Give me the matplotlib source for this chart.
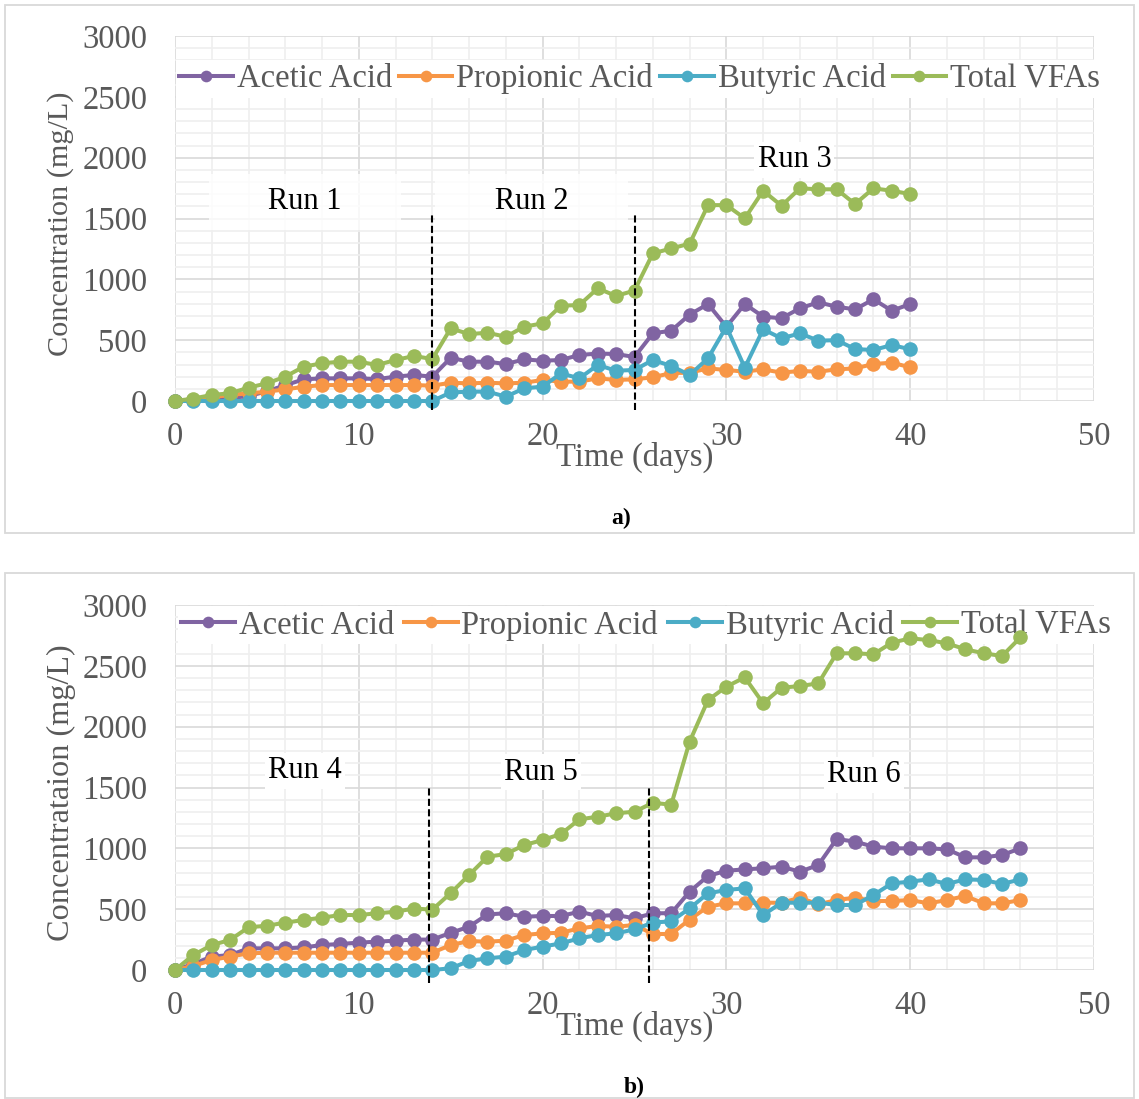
import matplotlib
matplotlib.use("Agg")
import matplotlib.pyplot as plt
from matplotlib.patches import Rectangle
from matplotlib.ticker import MultipleLocator

# ---- data: panel a) runs 1-3 ----
days_a = list(range(41))
acetic_a = [0, 5, 15, 25, 40, 80, 130, 178, 186, 186, 186, 180, 200, 214, 200,
            355, 323, 323, 304, 342, 331, 337, 378, 390, 386, 362,
            556, 578, 710, 797, 610, 797, 693, 680, 762, 811, 775, 753, 836, 742, 797]
propionic_a = [0, 5, 30, 50, 63, 77, 95, 117, 131, 131, 131, 131, 131, 131, 126,
               150, 145, 150, 145, 150, 173, 159, 159, 186, 173, 178,
               195, 230, 232, 268, 255, 241, 260, 233, 247, 241, 260, 268, 304, 315, 277]
butyric_a = [0, 0, 0, 0, 0, 0, 0, 0, 0, 0, 0, 0, 0, 0, 0,
             70, 77, 77, 36, 104, 118, 227, 186, 296, 249, 255,
             337, 288, 214, 351, 611, 274, 589, 515, 556, 496, 500, 427, 419, 460, 425]
total_a = [0, 20, 50, 63, 110, 145, 200, 282, 310, 323, 323, 296, 337, 370, 345,
           597, 550, 561, 528, 611, 638, 783, 789, 926, 863, 908,
           1213, 1254, 1293, 1610, 1610, 1501, 1728, 1605, 1748, 1740, 1740, 1619, 1748, 1728, 1701]
runs_a = ["Run 1", "Run 2", "Run 3"]
bounds_a = [14, 25]

# ---- data: panel b) runs 4-6 ----
days_b = list(range(47))
acetic_b = [0, 50, 110, 123, 178, 178, 178, 186, 205, 214, 225, 233, 241, 250, 250,
            305, 356, 457, 466, 438, 444, 444, 479, 444, 452, 425,
            466, 467, 644, 773, 816, 827, 836, 849, 808, 863, 1077, 1055, 1014, 1000,
            1000, 1000, 992, 926, 926, 945, 1000]
propionic_b = [0, 33, 82, 110, 137, 142, 142, 142, 142, 142, 142, 142, 142, 142, 142,
               205, 238, 233, 241, 288, 301, 306, 342, 362, 356, 370,
               296, 296, 415, 520, 548, 548, 553, 553, 594, 540, 575, 594, 567, 567,
               575, 548, 575, 608, 548, 548, 575]
butyric_b = [0, 0, 0, 0, 0, 0, 0, 0, 0, 0, 0, 0, 0, 0, 0,
             14, 74, 96, 110, 164, 192, 219, 260, 288, 301, 334,
             390, 400, 507, 630, 658, 671, 452, 553, 553, 553, 534, 534, 616, 712,
             726, 745, 707, 745, 740, 707, 745]
total_b = [0, 123, 205, 247, 351, 364, 389, 411, 430, 452, 452, 466, 479, 505, 496,
           632, 781, 931, 953, 1027, 1068, 1118, 1238, 1260, 1288, 1301,
           1374, 1359, 1877, 2219, 2329, 2405, 2192, 2320, 2334, 2356, 2603, 2603, 2595, 2690,
           2726, 2712, 2685, 2636, 2603, 2581, 2734]
runs_b = ["Run 4", "Run 5", "Run 6"]
bounds_b = [13.8, 25.8]

names = ["Acetic Acid", "Propionic Acid", "Butyric Acid", "Total VFAs"]
colors = ["#8064A2", "#F79646", "#4BACC6", "#9BBB59"]

W, H = 1139, 1099
GRAY = "#595959"
FS = 23.5
plt.rcParams['font.family'] = ['Liberation Serif', 'DejaVu Serif']

fig = plt.figure(figsize=(W / 100, H / 100), dpi=100)


def panel(top, days, series, runs, run_xy, boxed, bounds, div_top, div_bot,
          leg_xy, colspace, ylabel, ylab_size, caption, cap_y, cap_x, frame):
    ax = fig.add_axes([175 / W, 1 - (top + 365) / H, 919 / W, 365 / H])
    for name, vals, c in zip(names, series, colors):
        ax.plot(days, vals, color=c, lw=2.9, marker='o', ms=10.5, mew=0,
                label=name, clip_on=False, zorder=7)
    ax.set_xlim(0, 50)
    ax.set_ylim(0, 3000)
    ax.xaxis.set_major_locator(MultipleLocator(10))
    ax.xaxis.set_minor_locator(MultipleLocator(2))
    ax.yaxis.set_major_locator(MultipleLocator(500))
    ax.yaxis.set_minor_locator(MultipleLocator(100))
    ax.grid(which='major', color='#d9d9d9', lw=1.2)
    ax.grid(which='minor', color='#efefef', lw=1.2)
    ax.set_axisbelow(True)
    for s in ax.spines.values():
        s.set_visible(False)
    ax.tick_params(which='both', length=0, labelsize=FS, labelcolor=GRAY)
    ax.tick_params(axis='y', pad=20)
    ax.tick_params(axis='x', pad=15)

    for xb in bounds:
        ax.plot([xb, xb], [div_bot, div_top], color='black', lw=1.5,
                dashes=(3.4, 1.6), clip_on=False, zorder=8)

    for (label, (x, y), big) in zip(runs, run_xy, boxed):
        if big:
            ax.text(x, y, "      " + label + "      ", fontsize=22, ha='center', va='center',
                    zorder=4, bbox=dict(boxstyle='square,pad=0.45', fc='white', ec='none', alpha=0.8))
        else:
            ax.text(x, y, label, fontsize=22, ha='center', va='center', zorder=4,
                    bbox=dict(boxstyle='square,pad=0.1', fc='white', ec='none'))

    leg = ax.legend(loc='center', bbox_to_anchor=leg_xy, ncol=4, fontsize=FS,
                    frameon=True, facecolor='white', edgecolor='none', framealpha=1,
                    fancybox=False, handlelength=1.65, handletextpad=0.12,
                    columnspacing=colspace, borderpad=0.1, borderaxespad=0,
                    markerscale=0.8, labelcolor=GRAY)
    leg.set_zorder(6)

    fig.text(61 / W, 1 - (top + 188) / H, ylabel, rotation=90, ha='center', va='center',
             fontsize=ylab_size, color=GRAY)
    fig.text(635 / W, 1 - (top + 421) / H, "Time (days)", ha='center', va='center',
             fontsize=FS, color=GRAY)
    fig.text(cap_x / W, 1 - cap_y / H, caption, ha='center', va='center',
             fontsize=17, fontweight='bold')
    fig.patches.append(Rectangle((5 / W, 1 - frame[1] / H), 1129 / W, (frame[1] - frame[0]) / H,
                                 transform=fig.transFigure, fill=False,
                                 ec='#d9d9d9', lw=1.3))


panel(36, days_a, [acetic_a, propionic_a, butyric_a, total_a], runs_a,
      [(7.07, 1636), (19.4, 1636), (33.7, 1981)], [True, True, False],
      bounds_a, 1545, -74, (0.5054, 0.8822), 0.21,
      "Concentration (mg/L)", 21.8, "a)", 518, 621, (5, 533))

panel(605, days_b, [acetic_b, propionic_b, butyric_b, total_b], runs_b,
      [(7.07, 1636), (19.9, 1627), (37.5, 1603)], [False, False, False],
      bounds_b, 1500, -107, (0.5125, 0.9452), 0.3,
      "Concentrataion (mg/L)", 23.2, "b)", 1087, 634, (573, 1098))

fig.savefig("out.png", dpi=100)
